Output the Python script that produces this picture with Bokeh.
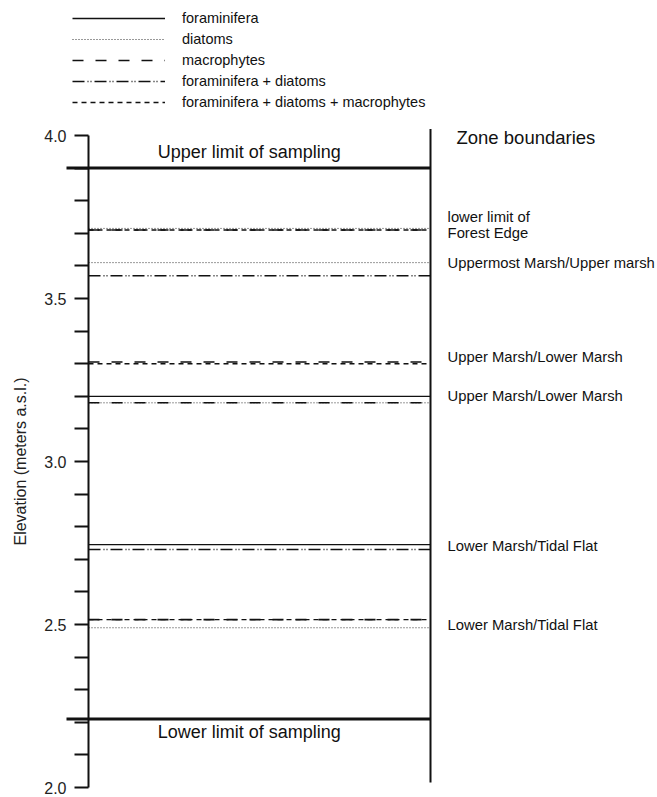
import math
from bokeh.plotting import figure
from bokeh.models import (Range1d, FixedTicker, Legend, LegendItem, ColumnDataSource,
                          PrintfTickFormatter)
from bokeh.embed import file_html
from bokeh.resources import INLINE
from bokeh.core.properties import value

# ---------------- data ----------------
series_names = ["foraminifera", "diatoms", "macrophytes",
                "foraminifera + diatoms", "foraminifera + diatoms + macrophytes"]
foraminifera = [3.20, 2.745]
diatoms = [3.715, 3.61, 3.18, 2.49]
macrophytes = [3.71, 3.305, 3.18, 2.515]
foram_diatoms = [3.57, 2.73]
foram_diatoms_macro = [3.71, 3.30, 2.515]

sampling_limits = [3.90, 2.21]
sampling_labels = ["Upper limit of sampling", "Lower limit of sampling"]

zone_labels = ["lower limit of\nForest Edge", "Uppermost Marsh/Upper marsh",
               "Upper Marsh/Lower Marsh", "Upper Marsh/Lower Marsh",
               "Lower Marsh/Tidal Flat", "Lower Marsh/Tidal Flat"]
zone_label_elev = [3.725, 3.61, 3.32, 3.20, 2.74, 2.50]

y_major_ticks = [2.0, 2.5, 3.0, 3.5, 4.0]
y_minor_ticks = [2.1, 2.2, 2.3, 2.4, 2.6, 2.7, 2.8, 2.9,
                 3.1, 3.2, 3.3, 3.4, 3.6, 3.7, 3.8, 3.9]

FONT = "Liberation Sans"
INK = "#111111"

# ---------------- layout constants (pixels) ----------
W, H = 657, 797
axis_px = 88          # screen x of the elevation axis
col_px = 342.0        # width of the zone column
top_px = 135          # screen y of 4.0 m
bottom_px = 787       # screen y of 2.0 m
px_per_m = (bottom_px - top_px) / 2.0

p = figure(width=W, height=H, output_backend="svg", toolbar_location=None,
           x_range=Range1d(-axis_px / col_px, (W - axis_px) / col_px),
           y_range=Range1d(2.0 - (H - bottom_px) / px_per_m, 2.0 + bottom_px / px_per_m),
           x_axis_type=None, min_border=0, min_border_left=0, min_border_right=0,
           min_border_top=0, min_border_bottom=0)
p.outline_line_color = None
p.grid.grid_line_color = None
p.background_fill_color = "white"
p.border_fill_color = "white"

ax = p.yaxis[0]
ax.fixed_location = 0.0
ax.ticker = FixedTicker(ticks=y_major_ticks, minor_ticks=y_minor_ticks)
ax.formatter = PrintfTickFormatter(format="%.1f")
ax.bounds = (2.0, 4.0)
ax.axis_line_width = 2
ax.axis_line_color = INK
ax.major_tick_line_width = 2
ax.minor_tick_line_width = 2
ax.major_tick_line_color = INK
ax.minor_tick_line_color = INK
ax.major_tick_out = 14
ax.major_tick_in = 0
ax.minor_tick_out = 14
ax.minor_tick_in = 0
ax.major_label_standoff = 8
ax.major_label_text_font = FONT
ax.major_label_text_font_size = "16px"
ax.major_label_text_color = "#222222"

# axis title, centred on the 2.0-4.0 m span
p.text(x=[-68 / col_px], y=[3.0], text=["Elevation (meters a.s.l.)"], angle=math.pi / 2,
       text_font=value(FONT), text_font_size="16px", text_align="center",
       text_baseline="middle", text_color="#222222")

styles = [
    dict(line_color=INK, line_width=1.3, line_dash="solid"),
    dict(line_color="#333333", line_width=1.0, line_dash="1 2"),
    dict(line_color=INK, line_width=1.6, line_dash="11 12"),
    dict(line_color=INK, line_width=1.4, line_dash="12 3 1 2 1 3"),
    dict(line_color=INK, line_width=1.4, line_dash="5 4"),
]
series_levels = [foraminifera, diatoms, macrophytes, foram_diatoms, foram_diatoms_macro]

renderers = []
for levels, st in zip(series_levels, styles):
    n = len(levels)
    src = ColumnDataSource(dict(y=levels, x0=[0.0] * n, x1=[1.0] * n))
    r = p.segment(x0="x0", y0="y", x1="x1", y1="y", source=src, **st)
    renderers.append(r)

# right-hand column boundary
p.segment(x0=[1.0], y0=[2.015], x1=[1.0], y1=[4.02], line_color=INK, line_width=2)

# sampling limits (thick lines extending left of the axis)
lim_src = ColumnDataSource(dict(y=sampling_limits, x0=[-22 / col_px] * 2, x1=[1.0] * 2))
p.segment(x0="x0", y0="y", x1="x1", y1="y", source=lim_src, line_width=3, line_color=INK)

p.text(x=[0.47], y=[sampling_limits[0]], text=[sampling_labels[0]],
       text_font=value(FONT), text_font_size="18px", text_align="center",
       text_baseline="bottom", y_offset=-6, text_color=INK)
p.text(x=[0.47], y=[sampling_limits[1]], text=[sampling_labels[1]],
       text_font=value(FONT), text_font_size="18px", text_align="center",
       text_baseline="top", y_offset=3, text_color=INK)

p.text(x=[1.076], y=[4.0], text=["Zone boundaries"],
       text_font=value(FONT), text_font_size="18.5px", text_align="left",
       text_baseline="middle", y_offset=2, text_color=INK)

p.text(x=[1.05] * len(zone_labels), y=zone_label_elev, text=zone_labels,
       text_font=value(FONT), text_font_size="14.8px", text_align="left",
       text_baseline="middle", text_line_height=1.0, text_color=INK)

legend = Legend(items=[LegendItem(label=nm, renderers=[r]) for nm, r in zip(series_names, renderers)],
                location=(72, H - 112), orientation="vertical",
                glyph_width=93, glyph_height=20, label_height=20, spacing=1,
                label_standoff=17, padding=0, margin=0,
                border_line_color=None, background_fill_alpha=0,
                label_text_font=FONT, label_text_font_size="14.5px",
                label_text_color=INK)
p.add_layout(legend)

open("out.html", "w").write(file_html(p, INLINE))
